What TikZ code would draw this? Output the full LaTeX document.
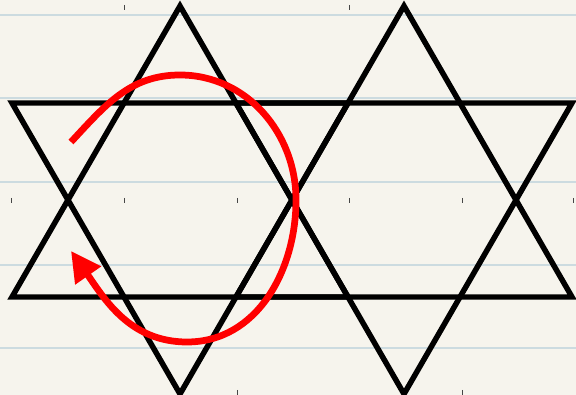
\documentclass[tikz,border=0pt]{standalone}
\usetikzlibrary{arrows.meta}
\definecolor{paper}{RGB}{246,244,237}
\definecolor{ruled}{RGB}{204,219,224}
\definecolor{tickgray}{RGB}{70,70,70}
\begin{document}
\begin{tikzpicture}
% paper
\fill[paper] (0,0) rectangle (14.4,9.875);
\useasboundingbox (0,0) rectangle (14.4,9.875);
\draw[ruled,line width=1.3pt] (0,9.5)--(14.4,9.5);
\draw[ruled,line width=1.3pt] (0,7.425)--(14.4,7.425);
\draw[ruled,line width=1.3pt] (0,5.325)--(14.4,5.325);
\draw[ruled,line width=1.3pt] (0,3.25)--(14.4,3.25);
\draw[ruled,line width=1.3pt] (0,1.175)--(14.4,1.175);
% ticks
\draw[tickgray,line width=0.6pt] (3.1,9.75)--(3.1,9.625);
\draw[tickgray,line width=0.6pt] (8.725,9.75)--(8.725,9.625);
\draw[tickgray,line width=0.6pt] (0.275,4.925)--(0.275,4.8);
\draw[tickgray,line width=0.6pt] (3.1,4.925)--(3.1,4.8);
\draw[tickgray,line width=0.6pt] (5.925,4.925)--(5.925,4.8);
\draw[tickgray,line width=0.6pt] (8.725,4.925)--(8.725,4.8);
\draw[tickgray,line width=0.6pt] (11.55,4.925)--(11.55,4.8);
\draw[tickgray,line width=0.6pt] (14.325,4.925)--(14.325,4.8);
\draw[tickgray,line width=0.6pt] (5.925,0.125)--(5.925,0);
\draw[tickgray,line width=0.6pt] (11.55,0.125)--(11.55,0);
% stars
\draw[line width=3.9pt] (4.5,9.725)--(0.2998,2.45)--(8.7002,2.45)--cycle;
\draw[line width=3.9pt] (4.5,0.025)--(0.2998,7.3)--(8.7002,7.3)--cycle;
\draw[line width=3.9pt] (10.1,9.725)--(5.8998,2.45)--(14.3002,2.45)--cycle;
\draw[line width=3.9pt] (10.1,0.025)--(5.8998,7.3)--(14.3002,7.3)--cycle;
% arrow
\draw[red,line width=4.8pt,-{Triangle[length=0.75cm,width=0.75cm]}]
  (1.775,6.325) to[out=47,in=180] (4.5,8.0) to[out=0,in=90] (7.4,4.875)
  to[out=-90,in=0] (4.675,1.325) to[out=180,in=-55] (1.775,3.6);
\end{tikzpicture}
\end{document}
